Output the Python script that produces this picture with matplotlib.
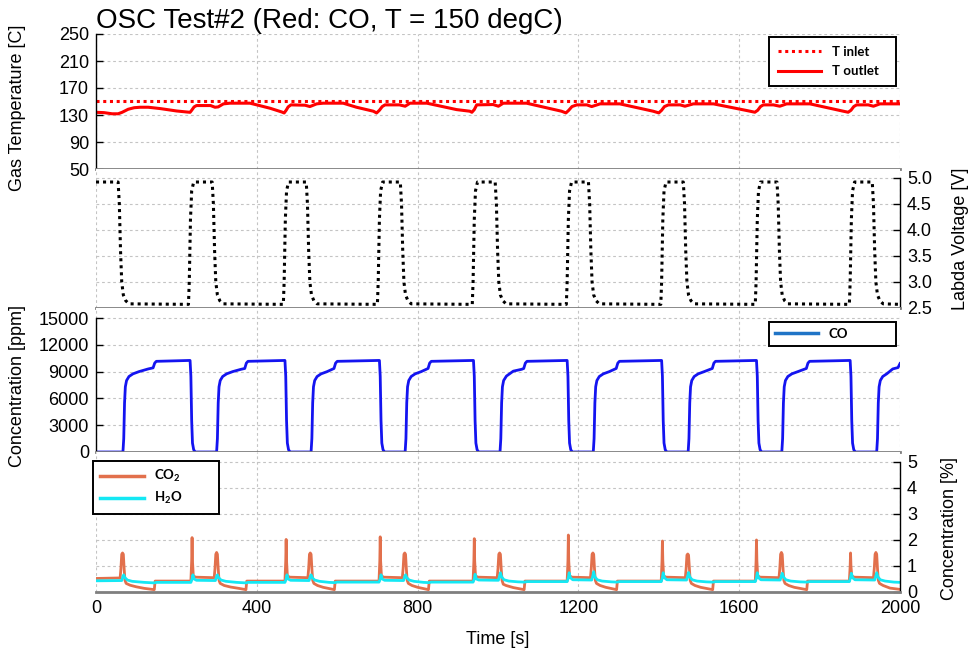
import numpy as np
import matplotlib
matplotlib.use('Agg')
from matplotlib import pyplot as plt
from matplotlib.lines import Line2D

plt.rcParams['font.family'] = ['Liberation Sans', 'DejaVu Sans']
plt.rcParams['mathtext.fontset'] = 'custom'
plt.rcParams['mathtext.rm'] = 'Lato:bold'
plt.rcParams['mathtext.default'] = 'rm'

# ---- data (time [s], value) ----
t_inlet = [(0, 150.5), (2000, 150.5)]

t_outlet = [(0, 134), (20, 133.5), (40, 131.8), (55, 131.8), (65, 134), (80, 138.5), (95, 140.8),
            (110, 141.5), (130, 141.5), (160, 139.5), (200, 136), (225, 134.5), (234, 134),
            (238, 137), (244, 142), (250, 144), (285, 144), (296, 141.5), (304, 142), (317, 146.5),
            (333, 147.5), (383, 147.5), (400, 145), (433, 140), (462, 134.5), (468, 133), (473, 137),
            (478, 142), (485, 145), (520, 144.5), (532, 142.5), (549, 146.5), (565, 147.5),
            (615, 147.5), (648, 141.5), (690, 135.6), (698, 133), (705, 137), (712, 142.5),
            (719, 145), (755, 145), (769, 143), (781, 147.5), (823, 147.5), (897, 138), (930, 135.6),
            (935, 134), (941, 138), (947, 145), (988, 145.5), (1001, 143), (1013, 147.5),
            (1071, 147.5), (1158, 135.6), (1169, 133.1), (1176, 137), (1184, 142.5), (1196, 145),
            (1221, 145), (1233, 142.5), (1254, 146.5), (1303, 146.5), (1386, 135.6), (1400, 133.1),
            (1407, 137), (1414, 142.5), (1424, 145), (1453, 145), (1465, 143), (1486, 146.5),
            (1536, 146.5), (1619, 136.6), (1639, 134.1), (1646, 137), (1653, 142.5), (1660, 145),
            (1685, 145), (1701, 143), (1718, 146.5), (1776, 146.5), (1859, 135.6), (1871, 134.1),
            (1878, 137), (1885, 142.5), (1892, 145), (1921, 145), (1934, 143), (1950, 146.5),
            (2000, 146.5)]

lambda_v = [(0, 4.92), (55, 4.92), (58, 4.5), (61, 3.6), (64, 3.0), (68, 2.75), (74, 2.64), (82, 2.58),
            (230, 2.57), (232, 3.0), (235, 4.2), (238, 4.75), (243, 4.92),
            (289, 4.92), (292, 4.5), (295, 3.6), (298, 3.0), (302, 2.75), (308, 2.64), (316, 2.58),
            (466, 2.57), (468, 3.0), (471, 4.2), (474, 4.75), (479, 4.92),
            (523, 4.92), (526, 4.5), (529, 3.6), (532, 3.0), (536, 2.75), (542, 2.64), (550, 2.58),
            (700, 2.57), (702, 3.0), (705, 4.2), (708, 4.75), (713, 4.92),
            (757, 4.92), (760, 4.5), (763, 3.6), (766, 3.0), (770, 2.75), (776, 2.64), (784, 2.58),
            (936, 2.57), (938, 3.0), (941, 4.2), (944, 4.75), (949, 4.92),
            (993, 4.92), (996, 4.5), (999, 3.6), (1002, 3.0), (1006, 2.75), (1012, 2.64), (1020, 2.58),
            (1170, 2.57), (1172, 3.0), (1175, 4.2), (1178, 4.75), (1183, 4.92),
            (1225, 4.92), (1228, 4.5), (1231, 3.6), (1234, 3.0), (1238, 2.75), (1244, 2.64), (1252, 2.58),
            (1405, 2.57), (1407, 3.0), (1410, 4.2), (1413, 4.75), (1418, 4.92),
            (1461, 4.92), (1464, 4.5), (1467, 3.6), (1470, 3.0), (1474, 2.75), (1480, 2.64), (1488, 2.58),
            (1640, 2.57), (1642, 3.0), (1645, 4.2), (1648, 4.75), (1653, 4.92),
            (1694, 4.92), (1697, 4.5), (1700, 3.6), (1703, 3.0), (1707, 2.75), (1713, 2.64), (1721, 2.58),
            (1874, 2.57), (1876, 3.0), (1879, 4.2), (1882, 4.75), (1887, 4.92),
            (1931, 4.92), (1934, 4.5), (1937, 3.6), (1940, 3.0), (1944, 2.75), (1950, 2.64), (1958, 2.58),
            (2000, 2.57)]

co_ppm = [(0, 0), (67, 0), (69, 1500), (71, 5500), (73, 7300), (76, 8000), (82, 8450), (92, 8750),
          (107, 9000), (130, 9300), (142, 9420), (146, 9950), (150, 10150), (234, 10250),
          (236, 8500), (238, 3500), (240, 1000), (243, 250), (247, 0),
          (300, 0), (302, 1500), (304, 5500), (306, 7300), (309, 8000), (315, 8450), (325, 8750),
          (340, 9000), (360, 9250), (370, 9350), (374, 9950), (378, 10150), (470, 10250),
          (472, 8500), (474, 3500), (476, 1000), (479, 250), (483, 0),
          (535, 0), (537, 1500), (539, 5500), (541, 7300), (544, 8000), (550, 8450), (560, 8750),
          (575, 9000), (592, 9350), (596, 9950), (600, 10150), (705, 10250),
          (707, 8500), (709, 3500), (711, 1000), (714, 250), (718, 0),
          (769, 0), (771, 1500), (773, 5500), (775, 7300), (778, 8000), (784, 8450), (794, 8750),
          (809, 9000), (826, 9350), (830, 9950), (834, 10150), (939, 10250),
          (941, 8500), (943, 3500), (945, 1000), (948, 250), (952, 0),
          (1005, 0), (1007, 1500), (1009, 5500), (1011, 7300), (1014, 8000), (1021, 8500),
          (1038, 9050), (1059, 9260), (1064, 9350), (1068, 9950), (1072, 10150), (1172, 10250),
          (1174, 8500), (1176, 3500), (1178, 1000), (1181, 250), (1185, 0),
          (1237, 0), (1239, 1500), (1241, 5500), (1243, 7300), (1246, 8000), (1252, 8450),
          (1262, 8750), (1277, 9000), (1294, 9350), (1298, 9950), (1302, 10150), (1407, 10250),
          (1409, 8500), (1411, 3500), (1413, 1000), (1416, 250), (1420, 0),
          (1473, 0), (1475, 1500), (1477, 5500), (1479, 7300), (1482, 8000), (1488, 8450),
          (1498, 8750), (1513, 9000), (1533, 9350), (1537, 9950), (1541, 10150), (1643, 10250),
          (1645, 8500), (1647, 3500), (1649, 1000), (1652, 250), (1656, 0),
          (1706, 0), (1708, 1500), (1710, 5500), (1712, 7300), (1715, 8000), (1721, 8450),
          (1731, 8750), (1746, 9000), (1767, 9350), (1771, 9950), (1775, 10150), (1876, 10250),
          (1878, 8500), (1880, 3500), (1882, 1000), (1885, 250), (1889, 0),
          (1942, 0), (1944, 1500), (1946, 5500), (1948, 7300), (1951, 8000), (1957, 8450),
          (1967, 8750), (1982, 9300), (1995, 9450), (2000, 9900)]

co2_pct = [(0, 0.52), (60, 0.54),
           (62, 0.9), (64, 1.45), (66, 1.5), (68, 1.45), (70, 0.9), (72, 0.45), (75, 0.33), (85, 0.26),
           (100, 0.2), (120, 0.14), (145, 0.09), (147, 0.42),
           (236, 0.42), (238, 1.2), (239, 2.09), (240, 1.2), (242, 0.62), (248, 0.57),
           (294, 0.55), (296, 0.9), (298, 1.45), (300, 1.52), (302, 1.45), (304, 0.9), (306, 0.45),
           (309, 0.33), (319, 0.25), (335, 0.19), (355, 0.14), (373, 0.09), (375, 0.42),
           (470, 0.42), (472, 1.2), (473, 2.02), (474, 1.2), (476, 0.62), (482, 0.57),
           (527, 0.55), (529, 0.9), (531, 1.45), (533, 1.5), (535, 1.45), (537, 0.9), (539, 0.45),
           (542, 0.33), (551, 0.25), (565, 0.18), (593, 0.09), (595, 0.42),
           (704, 0.42), (706, 1.2), (707, 2.12), (708, 1.2), (710, 0.62), (716, 0.57),
           (762, 0.55), (764, 0.9), (766, 1.45), (768, 1.5), (770, 1.45), (772, 0.9), (774, 0.45),
           (777, 0.33), (786, 0.25), (800, 0.18), (827, 0.09), (829, 0.42),
           (938, 0.42), (940, 1.2), (941, 2.05), (942, 1.2), (944, 0.62), (950, 0.57),
           (998, 0.55), (1000, 0.9), (1002, 1.45), (1004, 1.5), (1006, 1.45), (1008, 0.9),
           (1010, 0.45), (1013, 0.3), (1020, 0.25), (1038, 0.17), (1065, 0.09), (1067, 0.42),
           (1172, 0.42), (1174, 1.2), (1175, 2.19), (1176, 1.2), (1178, 0.62), (1184, 0.57),
           (1230, 0.55), (1232, 0.9), (1234, 1.45), (1236, 1.5), (1238, 1.45), (1240, 0.9),
           (1242, 0.45), (1245, 0.33), (1254, 0.25), (1268, 0.18), (1295, 0.09), (1297, 0.42),
           (1406, 0.42), (1408, 1.2), (1409, 1.96), (1410, 1.2), (1412, 0.62), (1418, 0.57),
           (1466, 0.55), (1468, 0.9), (1470, 1.42), (1472, 1.46), (1474, 1.42), (1476, 0.9),
           (1478, 0.45), (1481, 0.33), (1490, 0.25), (1504, 0.18), (1534, 0.09), (1536, 0.42),
           (1640, 0.42), (1642, 1.2), (1643, 2.0), (1644, 1.2), (1646, 0.62), (1652, 0.57),
           (1699, 0.55), (1701, 0.9), (1703, 1.45), (1705, 1.52), (1707, 1.45), (1709, 0.9),
           (1711, 0.45), (1714, 0.33), (1723, 0.25), (1737, 0.18), (1768, 0.09), (1770, 0.42),
           (1874, 0.42), (1876, 1.0), (1877, 1.5), (1878, 1.0), (1880, 0.62), (1886, 0.57),
           (1934, 0.55), (1936, 0.9), (1938, 1.45), (1940, 1.52), (1942, 1.45), (1944, 0.9),
           (1946, 0.45), (1949, 0.33), (1958, 0.25), (1975, 0.15), (2000, 0.1)]

h2o_pct = [(0, 0.43), (64, 0.44), (67, 0.6), (69, 0.66), (72, 0.55), (78, 0.46), (90, 0.41),
           (120, 0.37), (145, 0.35), (150, 0.37), (236, 0.37), (239, 0.5), (241, 0.66), (244, 0.5),
           (250, 0.45), (297, 0.44), (300, 0.6), (302, 0.66), (305, 0.55), (311, 0.46), (323, 0.41),
           (350, 0.37), (373, 0.35), (378, 0.37), (470, 0.37), (473, 0.5), (475, 0.66), (478, 0.5),
           (484, 0.45), (530, 0.44), (533, 0.6), (535, 0.66), (538, 0.55), (544, 0.46), (556, 0.41),
           (580, 0.37), (594, 0.36), (600, 0.38), (704, 0.38), (707, 0.5), (709, 0.66), (712, 0.5),
           (718, 0.45), (765, 0.44), (768, 0.6), (770, 0.66), (773, 0.55), (779, 0.46), (791, 0.41),
           (815, 0.37), (828, 0.36), (834, 0.38), (938, 0.38), (941, 0.5), (943, 0.68), (946, 0.5),
           (952, 0.46), (1001, 0.45), (1004, 0.62), (1006, 0.74), (1009, 0.58), (1015, 0.47),
           (1027, 0.42), (1050, 0.39), (1066, 0.38), (1072, 0.4), (1172, 0.4), (1175, 0.55),
           (1177, 0.74), (1180, 0.55), (1186, 0.47), (1233, 0.46), (1236, 0.62), (1238, 0.78),
           (1241, 0.58), (1247, 0.47), (1259, 0.42), (1282, 0.39), (1296, 0.38), (1302, 0.4),
           (1406, 0.4), (1409, 0.55), (1411, 0.74), (1414, 0.55), (1420, 0.47), (1469, 0.46),
           (1472, 0.62), (1474, 0.75), (1477, 0.58), (1483, 0.47), (1495, 0.42), (1518, 0.39),
           (1535, 0.38), (1541, 0.4), (1640, 0.4), (1643, 0.55), (1645, 0.74), (1648, 0.55),
           (1654, 0.47), (1702, 0.46), (1705, 0.62), (1707, 0.72), (1710, 0.58), (1716, 0.47),
           (1728, 0.42), (1751, 0.39), (1769, 0.38), (1775, 0.4), (1874, 0.4), (1877, 0.55),
           (1879, 0.72), (1882, 0.55), (1888, 0.47), (1937, 0.46), (1940, 0.62), (1942, 0.74),
           (1945, 0.58), (1951, 0.47), (1963, 0.42), (1985, 0.38), (2000, 0.37)]

x_ticks = [0, 400, 800, 1200, 1600, 2000]
temp_ticks = [50, 90, 130, 170, 210, 250]
lambda_ticks = [2.5, 3.0, 3.5, 4.0, 4.5, 5.0]
ppm_ticks = [0, 3000, 6000, 9000, 12000, 15000]
pct_ticks = [0, 1, 2, 3, 4, 5]


def xy(pairs):
    a = np.array(pairs, dtype=float)
    return a[:, 0], a[:, 1]


fig = plt.figure(figsize=(9.72, 6.53), dpi=100)
H = 653.0
L, W = 96 / 972, 804 / 972
ax1 = fig.add_axes([L, 1 - 169 / H, W, 135 / H])
ax2 = fig.add_axes([L, 1 - 308 / H, W, 139 / H])
ax3 = fig.add_axes([L, 1 - 452 / H, W, 144 / H])
ax4 = fig.add_axes([L, 1 - 592 / H, W, 140 / H])

grid_kw = dict(color='#c4c4c4', linestyle=(0, (2.5, 2.5)), linewidth=0.8)
sep_color = '#7f7f7f'

for ax, side in [(ax1, 'left'), (ax2, 'right'), (ax3, 'left'), (ax4, 'right')]:
    ax.set_xlim(0, 2000)
    ax.set_xticks(x_ticks)
    ax.grid(True, **grid_kw)
    ax.set_axisbelow(True)
    ax.spines['top'].set_visible(False)
    ax.spines['bottom'].set_color(sep_color)
    ax.spines['bottom'].set_linewidth(2.0)
    other = 'right' if side == 'left' else 'left'
    ax.spines[other].set_visible(False)
    ax.spines[side].set_linewidth(1.0)
    if side == 'right':
        ax.yaxis.tick_right()
        ax.yaxis.set_label_position('right')
    ax.tick_params(axis='y', direction='in', length=5, width=1, labelsize=13, pad=5)
    ax.tick_params(axis='x', length=0, labelsize=13, pad=6)
    if ax is not ax4:
        ax.tick_params(axis='x', labelbottom=False)

# temperature
ax1.set_ylim(50, 250)
ax1.set_yticks(temp_ticks)
ax1.spines['left'].set_bounds(50, 250)
tx, ty = xy(t_inlet)
ax1.plot(tx, ty, color='red', lw=2.2, linestyle=(0, (1, 1.2)), label='T inlet')
tx, ty = xy(t_outlet)
ax1.plot(tx, ty, color='red', lw=2.2, label='T outlet')
ax1.set_ylabel('Gas Temperature [C]', fontsize=13)
ax1.yaxis.set_label_coords(-0.087, 0.45)
ax1.set_title('OSC Test#2 (Red: CO, T = 150 degC)', loc='left', fontsize=20, pad=2)

# lambda voltage
ax2.set_ylim(2.5, 5.17)
ax2.set_yticks(lambda_ticks)
ax2.set_yticklabels(['%.1f' % v for v in lambda_ticks])
ax2.spines['right'].set_bounds(2.5, 5.0)
lx, ly = xy(lambda_v)
ax2.plot(lx, ly, color='black', lw=2.2, linestyle=(0, (1, 1.3)))
ax2.set_ylabel('Labda Voltage [V]', fontsize=13)
ax2.yaxis.set_label_coords(1.065, 0.5)

# CO
ax3.set_ylim(0, 16120)
ax3.set_yticks(ppm_ticks)
ax3.spines['left'].set_bounds(0, 15000)
cx, cy = xy(co_ppm)
ax3.plot(cx, cy, color='#1414f0', lw=2.0)
ax3.set_ylabel('Concentration [ppm]', fontsize=13)
ax3.yaxis.set_label_coords(-0.087, 0.46)

# CO2 / H2O
ax4.set_ylim(0, 5.38)
ax4.set_yticks(pct_ticks)
ax4.spines['right'].set_bounds(0, 5)
gx, gy = xy(co2_pct)
ax4.plot(gx, gy, color='#e2704c', lw=2.0)
hx, hy = xy(h2o_pct)
ax4.plot(hx, hy, color='#14e8f4', lw=2.0)
ax4.set_ylabel('Concentration [%]', fontsize=13)
ax4.yaxis.set_label_coords(1.051, 0.45)
ax4.set_xlabel('Time [s]', fontsize=13, labelpad=10)

leg_font = dict(family='Lato', weight='bold', size=9.5)


def box_legend(ax, handles, labels, x0, top, width, pad, spacing):
    leg = ax.legend(handles, labels, loc='upper left', bbox_to_anchor=(x0, top, width, 0),
                    mode='expand', borderaxespad=0, prop=leg_font, handlelength=3.3,
                    handletextpad=0.8, borderpad=pad, labelspacing=spacing,
                    fancybox=False, framealpha=1, edgecolor='black')
    leg.get_frame().set_linewidth(1.4)
    return leg


box_legend(ax1,
           [Line2D([], [], color='red', lw=2.2, linestyle=(0, (1, 1.2))),
            Line2D([], [], color='red', lw=2.2)],
           ['T inlet', 'T outlet'], 0.837, 0.978, 0.158, 0.65, 0.6)
box_legend(ax3, [Line2D([], [], color='#1f74c6', lw=2.5)], ['CO'],
           0.837, 0.903, 0.158, 0.45, 0.5)
box_legend(ax4,
           [Line2D([], [], color='#e2704c', lw=2.5), Line2D([], [], color='#14e8f4', lw=2.5)],
           ['CO$_2$', 'H$_2$O'], -0.004, 0.936, 0.157, 0.55, 0.45)

fig.savefig('out.png', dpi=100)
